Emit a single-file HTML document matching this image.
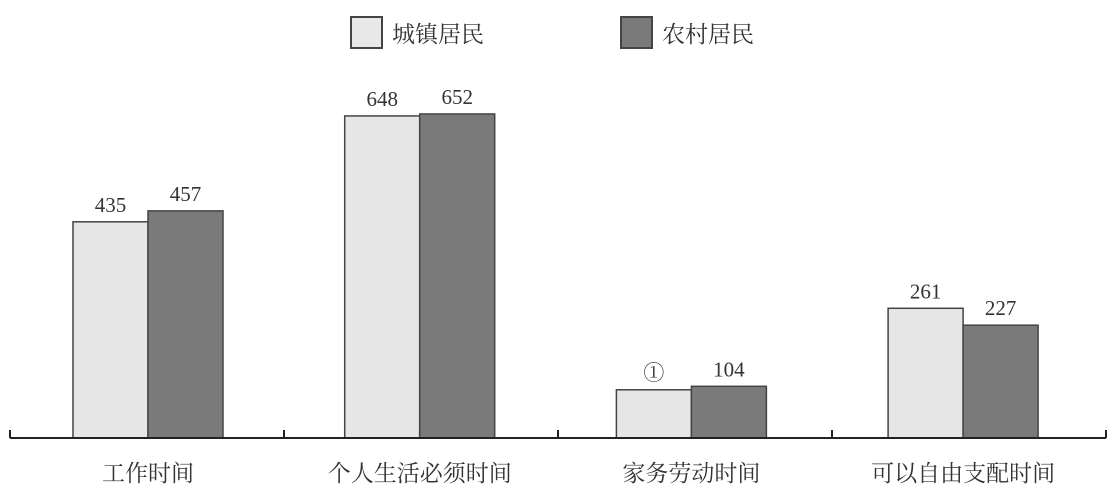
<!DOCTYPE html>
<html><head><meta charset="utf-8"><style>
body{margin:0;background:#fff}
svg text{font-family:"Liberation Serif","Noto Serif CJK SC",serif;fill:#333}
</style></head><body>
<svg width="1119" height="495" id="c">
<g>
<rect x="351" y="17" width="31" height="31" fill="#e8e8e8" stroke="#444" stroke-width="2"/>
<text x="392" y="42" font-size="23">城镇居民</text>
<rect x="621" y="17" width="31" height="31" fill="#7a7a7a" stroke="#444" stroke-width="2"/>
<text x="662" y="42" font-size="23">农村居民</text>
</g>
<g id="bars"></g>
<line x1="10" y1="438" x2="1106" y2="438" stroke="#222" stroke-width="2"/>
<g id="ticks"></g>
</svg>
<script>
const categories=["工作时间","个人生活必须时间","家务劳动时间","可以自由支配时间"];
const urban=[435,648,97,261];
const rural=[457,652,104,227];
const urbanLabels=["435","648","①","261"];
const ruralLabels=["457","652","104","227"];
const NS="http://www.w3.org/2000/svg";
const base=438, k=0.497, x0=10, gw=274, bw=75, c0=148, cs=271.7;
const y=v=>base-v*k;
const bars=document.getElementById('bars'), ticks=document.getElementById('ticks');
function mk(t,a,p){const e=document.createElementNS(NS,t);for(const n in a)e.setAttribute(n,a[n]);p.appendChild(e);return e;}
for(let i=0;i<=categories.length;i++){
  const t=mk('line',{x1:x0+i*gw,x2:x0+i*gw,y1:base-8,y2:base,stroke:'#222','stroke-width':2},ticks);
  
  
}
categories.forEach((c,i)=>{
  const cx=c0+i*cs;
  const r1=mk('rect',{x:cx-bw,y:y(urban[i]),width:bw,height:urban[i]*k,fill:'#e6e6e6',stroke:'#444','stroke-width':1.5},bars);
  
  
  const r2=mk('rect',{x:cx,y:y(rural[i]),width:bw,height:rural[i]*k,fill:'#7a7a7a',stroke:'#444','stroke-width':1.5},bars);
  
  
  const l1=mk('text',{x:cx-bw/2,y:y(urban[i])-10,'font-size':21,'text-anchor':'middle'},bars);l1.textContent=urbanLabels[i];
  
  
  const l2=mk('text',{x:cx+bw/2,y:y(rural[i])-10,'font-size':21,'text-anchor':'middle'},bars);l2.textContent=ruralLabels[i];
  
  
  const cl=mk('text',{x:cx,y:481,'font-size':23,'text-anchor':'middle'},bars);cl.textContent=c;
  
  
});
</script>
</body></html>
